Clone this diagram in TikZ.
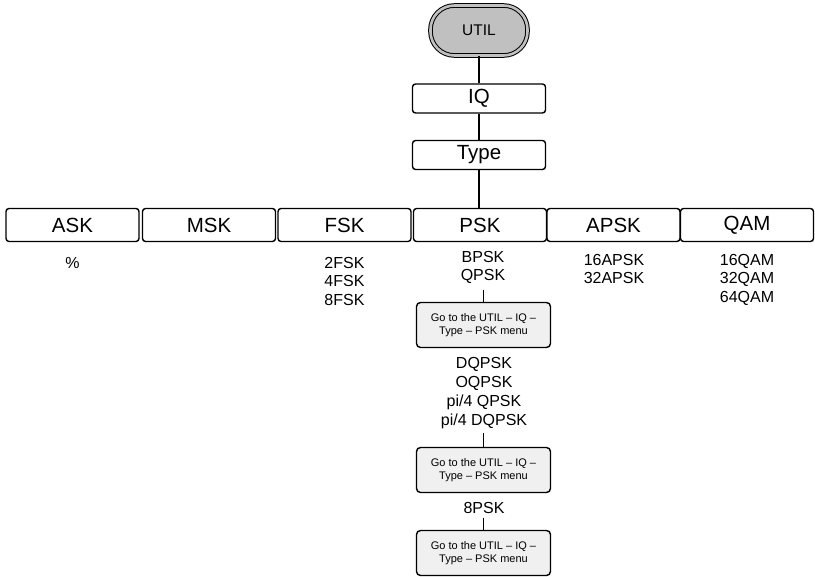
\documentclass[tikz,border=0pt]{standalone}
\usepackage{fontspec}
\setmainfont{Liberation Sans}
\definecolor{utilgray}{HTML}{C0C0C0}
\definecolor{gobg}{HTML}{F0F0F0}
\begin{document}
\begin{tikzpicture}[x=1pt,y=-1pt,
  conn/.style={line width=1.4pt},
  pill/.style={rectangle, rounded corners=24pt, draw, line width=1pt, double=utilgray, double distance=2.6pt, fill=utilgray,
    minimum width=97pt, minimum height=50pt, inner sep=0pt, font=\fontsize{15.5}{18}\selectfont},
  menubox/.style={rectangle, rounded corners=3pt, draw, line width=1.4pt, fill=white,
    minimum width=133pt, minimum height=29pt, inner sep=0pt, font=\fontsize{20.5}{24}\selectfont},
  rowbox/.style={menubox, minimum height=33pt},
  gobox/.style={rectangle, rounded corners=4pt, draw, line width=1.4pt, fill=gobg,
    minimum width=134pt, minimum height=45pt, inner sep=0pt, align=center, font=\fontsize{11}{13.5}\selectfont},
  lst/.style={anchor=north, inner sep=0pt, align=center, font=\fontsize{16}{18.5}\selectfont}]
\useasboundingbox (0,0) rectangle (815,577);

\node[pill] (util) at (479,30.5) {UTIL};
\node[menubox] (iq) at (479,98.5) {IQ};
\node[menubox] (type) at (479,155) {Type};

\node[rowbox] (ask)  at (72.5,225) {ASK};
\node[rowbox] (msk)  at (209,225) {MSK};
\node[rowbox] (fsk)  at (344.5,225) {FSK};
\node[rowbox] (psk)  at (480,225) {PSK};
\node[rowbox] (apsk) at (613.5,225) {APSK};
\node[rowbox] (qam)  at (747,225) {QAM};

\draw[conn] (util.south) -- (iq.north);
\draw[conn] (iq.south) -- (type.north);
\draw[conn] (type.south) -- (type.south |- psk.north);

\node[lst] (askl)  at (72.5,257) {\%};
\node[lst] (fskl)  at (344.5,257) {2FSK\\4FSK\\8FSK};
\node[lst, font=\fontsize{16}{18}\selectfont] (pskl) at (483,251) {BPSK\\QPSK};
\node[lst, font=\fontsize{16}{18}\selectfont] (apskl) at (614,254) {16APSK\\32APSK};
\node[lst] (qaml)  at (747,254) {16QAM\\32QAM\\64QAM};

\node[gobox] (go1) at (483.5,325) {Go to the UTIL – IQ –\\Type – PSK menu};
\node[lst, font=\fontsize{16}{19}\selectfont] (dl) at (484,357) {DQPSK\\OQPSK\\pi/4 QPSK\\pi/4 DQPSK};
\node[gobox] (go2) at (483.5,470) {Go to the UTIL – IQ –\\Type – PSK menu};
\node[lst] (el) at (484,502) {8PSK};
\node[gobox] (go3) at (483.5,553) {Go to the UTIL – IQ –\\Type – PSK menu};

\draw[conn, shorten <=6pt] (pskl.south -| go1.north) -- (go1.north);
\draw[conn, shorten <=4pt] (dl.south -| go2.north) -- (go2.north);
\draw[conn, shorten <=4pt] (el.south -| go3.north) -- (go3.north);
\end{tikzpicture}
\end{document}
